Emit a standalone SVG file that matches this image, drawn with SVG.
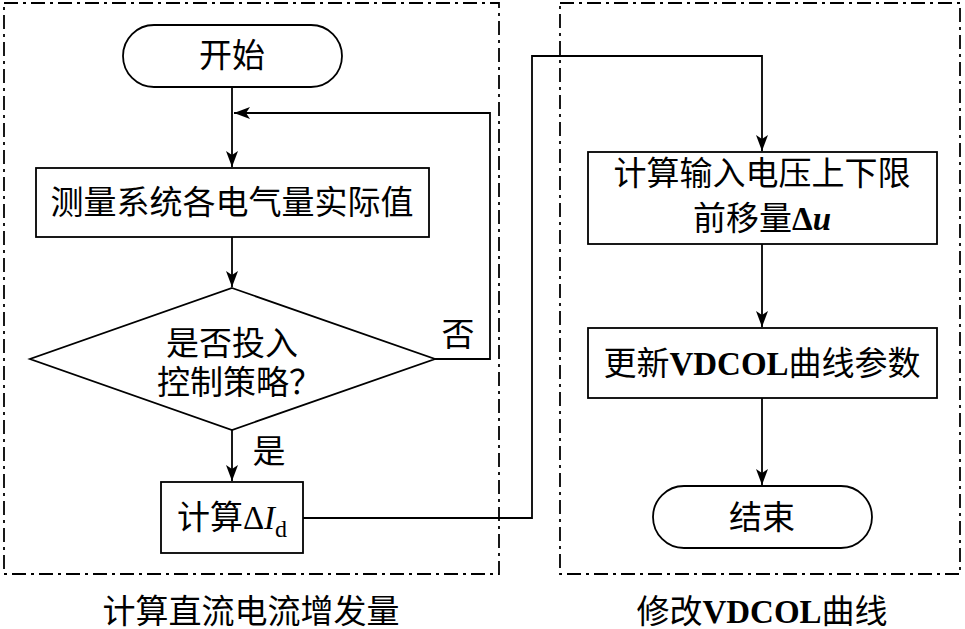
<svg xmlns="http://www.w3.org/2000/svg" width="965" height="629" viewBox="0 0 965 629">
<style>
.t{font-family:"Liberation Serif","Noto Sans CJK SC",serif;font-size:33px;fill:#000;text-anchor:middle}
.s{fill:#fff;stroke:#000;stroke-width:1.8}
.c{fill:none;stroke:#000;stroke-width:1.8}
.g{fill:none;stroke:#000;stroke-width:1.8;stroke-dasharray:14,5,3,5}
.b{font-weight:bold}
</style>
<defs>
<marker id="ah" viewBox="0 0 16 12" refX="16" refY="6" markerWidth="16" markerHeight="12" markerUnits="userSpaceOnUse" orient="auto">
<path d="M0,0 L16,6 L0,12 L4,6 Z" fill="#000"/>
</marker>
</defs>
<rect x="0" y="0" width="965" height="629" fill="#fff"/>
<g id="groups">
<rect class="g" x="4" y="3" width="495" height="571"/>
<rect class="g" x="560" y="3" width="400" height="571"/>
<text class="t" x="251" y="623">计算直流电流增发量</text>
<text class="t" x="762" y="623">修改<tspan class="b">VDCOL</tspan>曲线</text>
</g>
<g id="connectors">
<path class="c" d="M232,87 V167" marker-end="url(#ah)"/>
<path class="c" d="M435,359 H490 V113 H234" marker-end="url(#ah)"/>
<path class="c" d="M232,237 V287" marker-end="url(#ah)"/>
<path class="c" d="M232,430 V481" marker-end="url(#ah)"/>
<path class="c" d="M303,518 H532 V56 H762 V151" marker-end="url(#ah)"/>
<path class="c" d="M762,244 V327" marker-end="url(#ah)"/>
<path class="c" d="M762,398 V485" marker-end="url(#ah)"/>
<text class="t" x="458" y="346">否</text>
<text class="t" x="269" y="463">是</text>
</g>
<g id="start">
<rect class="s" x="123" y="25" width="219" height="62" rx="31" ry="31"/>
<text class="t" x="232" y="67">开始</text>
</g>
<g id="measure">
<rect class="s" x="36" y="168" width="393" height="69"/>
<text class="t" x="232" y="214">测量系统各电气量实际值</text>
</g>
<g id="decision">
<polygon class="s" points="232,288 435,359 232,430 30,359"/>
<text class="t" x="232" y="355">是否投入</text>
<text class="t" x="157" y="394" style="text-anchor:start">控制策略<tspan font-family="Noto Sans CJK SC">？</tspan></text>
</g>
<g id="calcId">
<rect class="s" x="161" y="482" width="142" height="71"/>
<text class="t" x="232" y="529">计算Δ<tspan font-style="italic">I</tspan><tspan font-size="24" dy="8">d</tspan></text>
</g>
<g id="calcU">
<rect class="s" x="588" y="152" width="349" height="92"/>
<text class="t" x="762" y="185">计算输入电压上下限</text>
<text class="t" x="762" y="230">前移量<tspan class="b">Δ</tspan><tspan class="b" font-style="italic">u</tspan></text>
</g>
<g id="update">
<rect class="s" x="588" y="328" width="349" height="70"/>
<text class="t" x="762" y="375">更新<tspan class="b">VDCOL</tspan>曲线参数</text>
</g>
<g id="end">
<rect class="s" x="653" y="486" width="219" height="62" rx="31" ry="31"/>
<text class="t" x="762" y="529">结束</text>
</g>
</svg>
